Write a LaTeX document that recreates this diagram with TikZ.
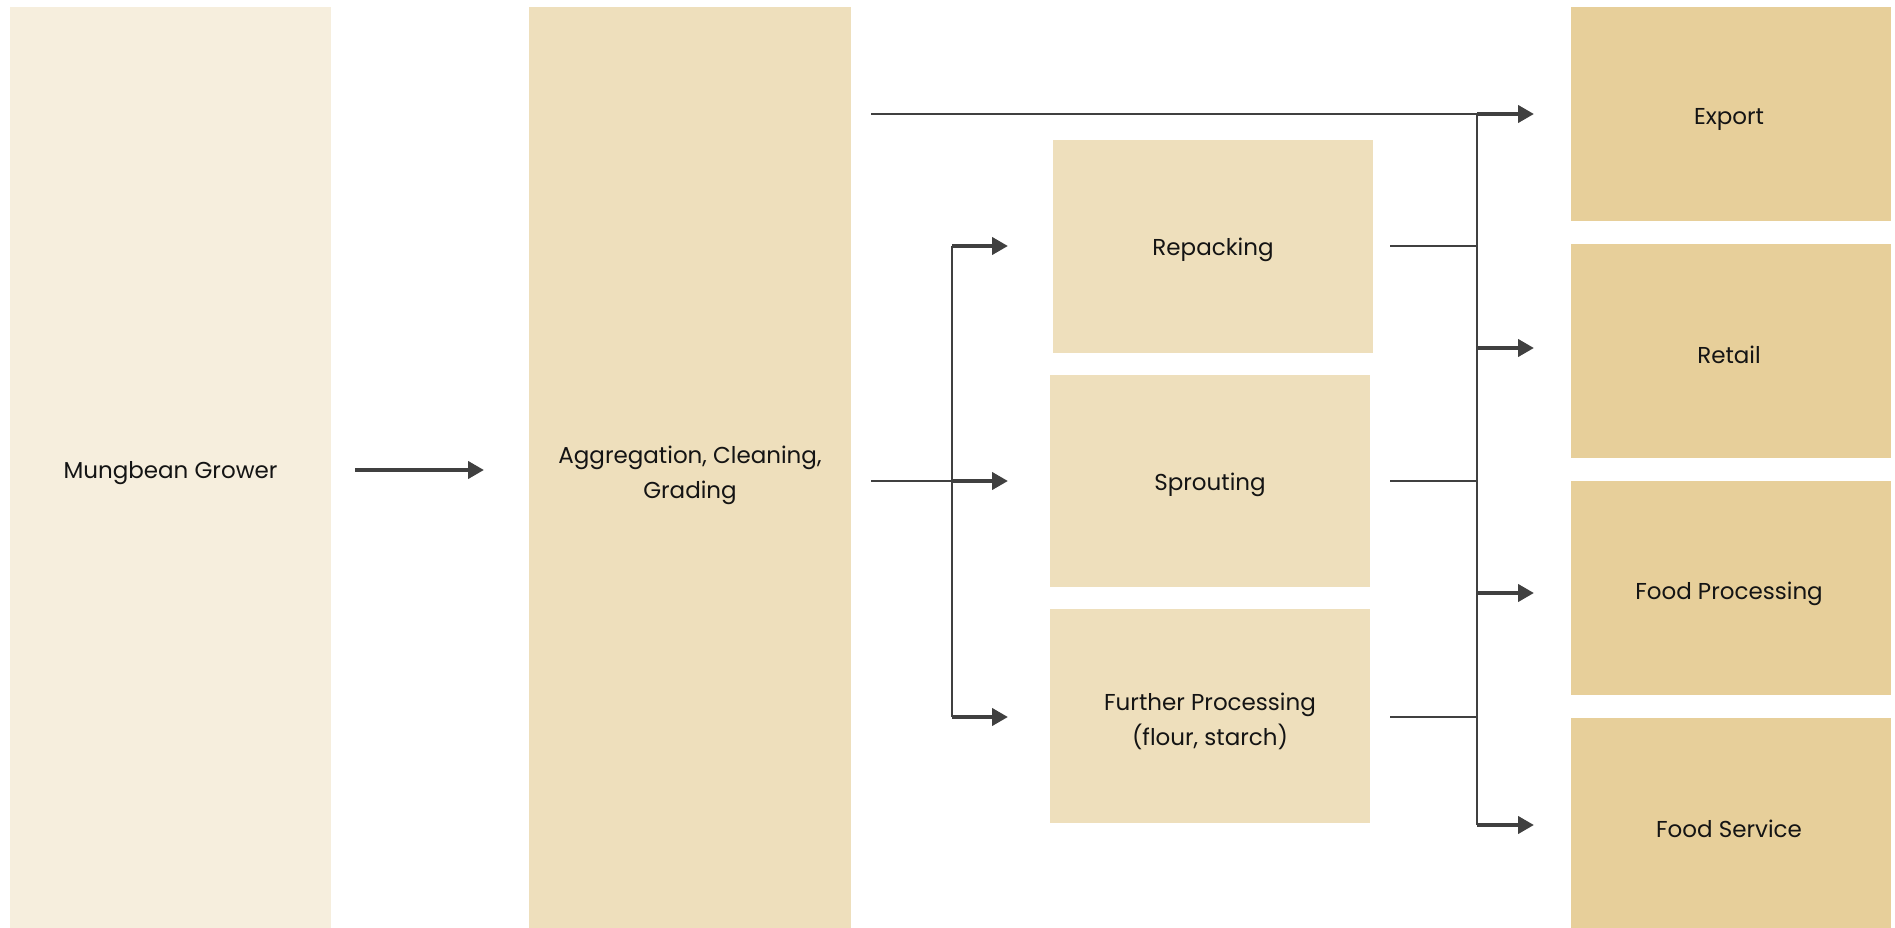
\documentclass[tikz,border=0pt]{standalone}
\usepackage{fontspec}
\setmainfont{Poppins}
\usetikzlibrary{arrows.meta}
\definecolor{growerfill}{HTML}{F6EEDD}
\definecolor{midfill}{HTML}{EEDFBC}
\definecolor{endfill}{HTML}{E7CF9A}
\definecolor{linecol}{HTML}{404040}
\definecolor{txt}{HTML}{141414}
\tikzset{
  box/.style={draw=none, inner sep=0pt, text=txt, align=center,
    font=\fontsize{23}{35}\selectfont},
  thinline/.style={draw=linecol, line width=2.5pt},
  thickarrow/.style={draw=linecol, line width=4.5pt,
    -{Triangle[length=16pt,width=17pt]}, shorten >=0pt},
}
\begin{document}
\begin{tikzpicture}[x=1pt,y=-1pt]
\useasboundingbox (0,0) rectangle (1895,928);
% boxes
\fill[growerfill] (10,7) rectangle (331,928);
\node[box] (grower) at (170.5,473) {Mungbean Grower};
\fill[midfill] (529,7) rectangle (851,928);
\node[box] (agg) at (690,475) {Aggregation, Cleaning,\\Grading};
\fill[midfill] (1053,140) rectangle (1373,353);
\node[box] (repack) at (1213,250) {Repacking};
\fill[midfill] (1050,375) rectangle (1370,587);
\node[box] (sprout) at (1210,485) {Sprouting};
\fill[midfill] (1050,609) rectangle (1370,823);
\node[box] (further) at (1210,721) {Further Processing\\(flour, starch)};
\fill[endfill] (1571,7) rectangle (1891,221);
\node[box] (export) at (1729,119) {Export};
\fill[endfill] (1571,244) rectangle (1891,458);
\node[box] (retail) at (1729,355) {Retail};
\fill[endfill] (1571,481) rectangle (1891,695);
\node[box] (foodproc) at (1729,594) {Food Processing};
\fill[endfill] (1571,718) rectangle (1891,928);
\node[box] (foodserv) at (1729,829) {Food Service};
% coordinates
\coordinate (g1) at (355,470);
\coordinate (g2) at (484,470);
\coordinate (e0) at (871,114);
\coordinate (a0) at (871,481);
\coordinate (vA1) at (952,246);
\coordinate (vA2) at (952,481);
\coordinate (vA3) at (952,717);
\coordinate (tA1) at (1008,246);
\coordinate (tA2) at (1008,481);
\coordinate (tA3) at (1008,717);
\coordinate (r1) at (1390,246);
\coordinate (r2) at (1390,481);
\coordinate (r3) at (1390,717);
\coordinate (vB0) at (1477,114);
\coordinate (vB1) at (1477,348);
\coordinate (vB2) at (1477,593);
\coordinate (vB3) at (1477,825);
\coordinate (jB1) at (1477,246);
\coordinate (jB2) at (1477,481);
\coordinate (jB3) at (1477,717);
\coordinate (tB0) at (1534,114);
\coordinate (tB1) at (1534,348);
\coordinate (tB2) at (1534,593);
\coordinate (tB3) at (1534,825);
% connectors
\draw[thickarrow] (g1) -- (g2);
\draw[thinline] (e0) -- (vB0);
\draw[thinline] (a0) -- (vA2);
\draw[thinline] (vA1) -- (vA3);
\draw[thickarrow] (vA1) -- (tA1);
\draw[thickarrow] (vA2) -- (tA2);
\draw[thickarrow] (vA3) -- (tA3);
\draw[thinline] (r1) -- (jB1);
\draw[thinline] (r2) -- (jB2);
\draw[thinline] (r3) -- (jB3);
\draw[thinline] (vB0) -- (vB3);
\draw[thickarrow] (vB0) -- (tB0);
\draw[thickarrow] (vB1) -- (tB1);
\draw[thickarrow] (vB2) -- (tB2);
\draw[thickarrow] (vB3) -- (tB3);
\end{tikzpicture}
\end{document}
